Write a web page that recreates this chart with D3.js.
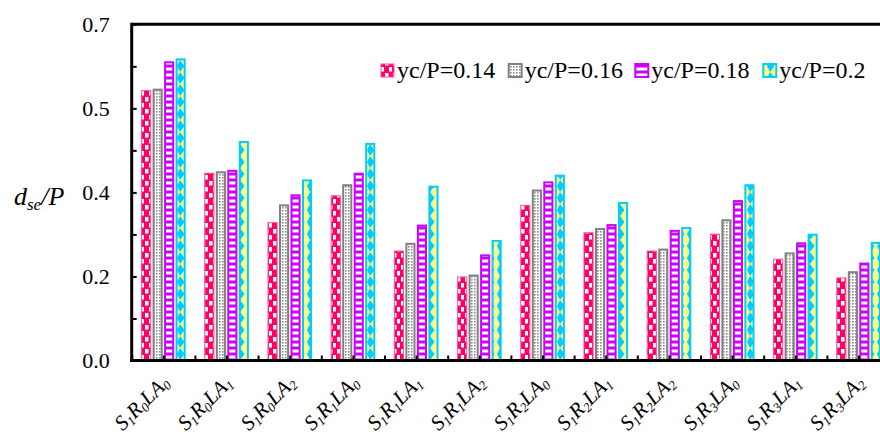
<!DOCTYPE html>
<html><head><meta charset="utf-8">
<script src="https://cdn.jsdelivr.net/npm/d3@7"></script>
<style>body{margin:0;background:#fff} svg{display:block}</style>
</head><body><svg id="c" width="880" height="435"></svg>
<script>
const categories = ["S1R0LA0","S1R0LA1","S1R0LA2","S1R1LA0","S1R1LA1","S1R1LA2","S1R2LA0","S1R2LA1","S1R2LA2","S1R3LA0","S1R3LA1","S1R3LA2"];
const seriesNames = ["yc/P=0.14","yc/P=0.16","yc/P=0.18","yc/P=0.2"];
const s014 = [0.563,0.391,0.288,0.344,0.229,0.175,0.324,0.267,0.229,0.264,0.212,0.173];
const s016 = [0.566,0.394,0.325,0.367,0.245,0.179,0.356,0.276,0.233,0.294,0.225,0.186];
const s018 = [0.623,0.397,0.346,0.391,0.283,0.221,0.373,0.284,0.272,0.334,0.246,0.204];
const s020 = [0.629,0.457,0.377,0.453,0.364,0.251,0.387,0.330,0.278,0.367,0.264,0.247];
const yTickValues = [0,0.0875,0.175,0.2625,0.35,0.4375,0.525,0.6125,0.7];
const yTickLabels = ["0.0","","0.2","","0.4","","0.5","","0.7"];

const seriesValues = [s014,s016,s018,s020];
const svg = d3.select("#c");
const FF = '"Liberation Serif"';
const L = 131.7, R = L + 63.2*12, T = 24.3, B = 360.5;

// patterns
const defs = svg.append("defs");
function pat(id,w,h,draw){
  const p = defs.append("pattern").attr("id",id).attr("patternUnits","userSpaceOnUse").attr("width",w).attr("height",h);
  draw(p);
}
pat("pPink",8,12,p=>{
  p.append("rect").attr("width",8).attr("height",12).attr("fill","#ff0066");
  p.append("rect").attr("x",1).attr("y",1).attr("width",3.5).attr("height",4.5).attr("fill","#fff");
  p.append("rect").attr("x",5).attr("y",7).attr("width",3).attr("height",4.5).attr("fill","#fff");
});
pat("pGray",3,3,p=>{
  p.append("rect").attr("width",3).attr("height",3).attr("fill","#fff");
  p.append("rect").attr("width",1.6).attr("height",1.6).attr("fill","#8a8a8a");
});
pat("pPurple",6,6,p=>{
  p.append("rect").attr("width",6).attr("height",6).attr("fill","#cc00ff");
  p.append("rect").attr("y",1.5).attr("width",6).attr("height",3).attr("fill","#fff");
});
pat("pCyan",10,12,p=>{
  p.append("rect").attr("width",10).attr("height",12).attr("fill","#ffff88");
  p.append("path").attr("d","M0,0L4.5,6L0,12Z M10,0L7,6L10,12Z").attr("fill","#00ccff");
});
const fills = ["url(#pPink)","url(#pGray)","url(#pPurple)","url(#pCyan)"];
const strokes = ["#ff4d94","#808080","#cc00ff","#00ccff"];
const strokeW = [1,2,2,2];

const x0 = d3.scaleBand().domain(categories).range([L,R]).paddingInner(0).paddingOuter(0);
const x1 = d3.scaleBand().domain(seriesNames).range([9.4,54]).paddingInner(0.12);
const y = d3.scaleLinear().domain([0,0.7]).range([B,T]);
const xt = d3.scaleLinear().domain([0,12]).range([L,R]);

// bars
const g = svg.append("g");
categories.forEach((c,i)=>{
  seriesNames.forEach((s,j)=>{
    const v = seriesValues[j][i];
    const sw = strokeW[j];
    g.append("rect")
      .attr("x", x0(c)+x1(s)+sw/2)
      .attr("y", y(v)+sw/2)
      .attr("width", x1.bandwidth()-sw)
      .attr("height", y(0)-y(v)-sw/2)
      .attr("fill", fills[j]).attr("stroke", strokes[j]).attr("stroke-width", sw);
  });
});

// axes
const ya = svg.append("g").attr("transform",`translate(${L},0)`)
  .call(d3.axisLeft(y).tickValues(yTickValues).tickSize(-5).tickPadding(22)
    .tickFormat((d,i)=>yTickLabels[i]));
ya.select(".domain").remove();
ya.selectAll("line").attr("stroke","#000").attr("stroke-width",2);
ya.selectAll("text").style("font-family",FF).attr("font-size",22).attr("fill","#000");

const xa = svg.append("g").attr("transform",`translate(0,${B})`)
  .call(d3.axisBottom(xt).tickValues(d3.range(0,12.5,0.5)).tickSize(-5).tickFormat(""));
xa.select(".domain").remove();
xa.selectAll("line").attr("stroke","#000").attr("stroke-width",2);

svg.append("line").attr("x1",L).attr("x2",880).attr("y1",T).attr("y2",T).attr("stroke","#000").attr("stroke-width",3);
svg.append("line").attr("x1",L-1.5).attr("x2",880).attr("y1",B).attr("y2",B).attr("stroke","#000").attr("stroke-width",3);
svg.append("line").attr("x1",L).attr("x2",L).attr("y1",T-1.5).attr("y2",B+1.5).attr("stroke","#000").attr("stroke-width",3);

// x labels
categories.forEach(c=>{
  const cx = x0(c)+x0.bandwidth()/2;
  const t = svg.append("text").style("font-family",FF).attr("font-size",21).attr("font-style","italic")
    .attr("text-anchor","end").attr("transform",`translate(${cx+7},${384}) rotate(-45)`);
  let first = true;
  c.match(/[A-Z]+|\d/g).forEach(part=>{
    if(/\d/.test(part)){
      t.append("tspan").attr("font-size",13).attr("dy",3).text(part);
    } else {
      t.append("tspan").attr("dy",first?0:-3).text(part);
    }
    first = false;
  });
});

// y label
const yl = svg.append("text").style("font-family",FF).attr("x",14).attr("y",205).attr("font-size",26).attr("font-style","italic");
yl.append("tspan").text("d");
yl.append("tspan").attr("font-size",17).attr("dy",5).text("se");
yl.append("tspan").attr("dy",-5).text("/P");

// legend
const legX = [380,507.7,634.3,762.3];
seriesNames.forEach((s,j)=>{
  svg.append("rect").attr("x",legX[j]+1).attr("y",64).attr("width",13).attr("height",13)
    .attr("fill",fills[j]).attr("stroke",strokes[j]).attr("stroke-width",strokeW[j]);
  svg.append("text").style("font-family",FF).attr("x",legX[j]+17).attr("y",78).attr("font-size",24)
    .attr("fill","#000").text(s);
});
</script></body></html>
